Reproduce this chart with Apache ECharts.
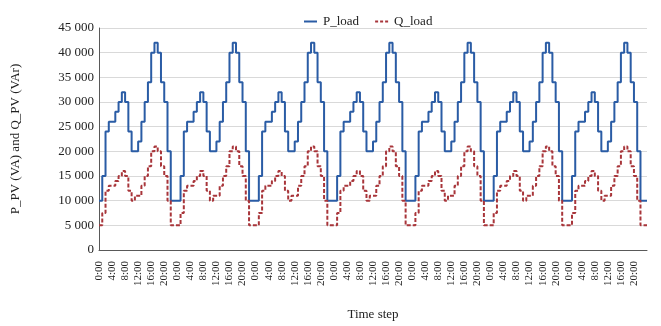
<!DOCTYPE html>
<html><head><meta charset="utf-8">
<script src="https://cdn.jsdelivr.net/npm/echarts@6/dist/echarts.min.js"></script>
<style>html,body{margin:0;padding:0;background:#fff}#c{width:661px;height:326px}</style>
</head><body><div id="c"></div>
<script>
// Hour-of-day tick labels (one day); the x axis runs over 7 days + closing point
const hourLabels = ['0:00','1:00','2:00','3:00','4:00','5:00','6:00','7:00','8:00','9:00','10:00','11:00',
  '12:00','13:00','14:00','15:00','16:00','17:00','18:00','19:00','20:00','21:00','22:00','23:00'];
const numDays = 7;

// P_load (VA), hourly (7 days + closing value)
const pLoad = [
  10000,15000,24000,26000,26000,28000,30000,32000,30000,24000,20000,20000,22000,26000,30000,34000,40000,42000,40000,34000,30000,20000,10000,10000,
  10000,15000,24000,26000,26000,28000,30000,32000,30000,24000,20000,20000,22000,26000,30000,34000,40000,42000,40000,34000,30000,20000,10000,10000,
  10000,15000,24000,26000,26000,28000,30000,32000,30000,24000,20000,20000,22000,26000,30000,34000,40000,42000,40000,34000,30000,20000,10000,10000,
  10000,15000,24000,26000,26000,28000,30000,32000,30000,24000,20000,20000,22000,26000,30000,34000,40000,42000,40000,34000,30000,20000,10000,10000,
  10000,15000,24000,26000,26000,28000,30000,32000,30000,24000,20000,20000,22000,26000,30000,34000,40000,42000,40000,34000,30000,20000,10000,10000,
  10000,15000,24000,26000,26000,28000,30000,32000,30000,24000,20000,20000,22000,26000,30000,34000,40000,42000,40000,34000,30000,20000,10000,10000,
  10000,15000,24000,26000,26000,28000,30000,32000,30000,24000,20000,20000,22000,26000,30000,34000,40000,42000,40000,34000,30000,20000,10000,10000,
  10000
];
// Q_load (VAr), hourly (7 days + closing value)
const qLoad = [
  5000,7500,12000,13000,13000,14000,15000,16000,15000,12000,10000,11000,11000,13000,15000,17000,20000,21000,20000,17000,15000,10000,5000,5000,
  5000,7500,12000,13000,13000,14000,15000,16000,15000,12000,10000,11000,11000,13000,15000,17000,20000,21000,20000,17000,15000,10000,5000,5000,
  5000,7500,12000,13000,13000,14000,15000,16000,15000,12000,10000,11000,11000,13000,15000,17000,20000,21000,20000,17000,15000,10000,5000,5000,
  5000,7500,12000,13000,13000,14000,15000,16000,15000,12000,10000,11000,11000,13000,15000,17000,20000,21000,20000,17000,15000,10000,5000,5000,
  5000,7500,12000,13000,13000,14000,15000,16000,15000,12000,10000,11000,11000,13000,15000,17000,20000,21000,20000,17000,15000,10000,5000,5000,
  5000,7500,12000,13000,13000,14000,15000,16000,15000,12000,10000,11000,11000,13000,15000,17000,20000,21000,20000,17000,15000,10000,5000,5000,
  5000,7500,12000,13000,13000,14000,15000,16000,15000,12000,10000,11000,11000,13000,15000,17000,20000,21000,20000,17000,15000,10000,5000,5000,
  5000
];

const categories = [];
for (let d = 0; d < numDays; d++) categories.push(...hourLabels);
categories.push(hourLabels[0]);
const lastIndex = categories.length - 1;

const FONT = '"Liberation Serif", "Times New Roman", serif';
const fmtThousands = v => String(v).replace(/\B(?=(\d{3})+(?!\d))/g, ' ');
const BLUE = '#2a5ca5';
const RED = '#a8353a';

const chart = echarts.init(document.getElementById('c'), null, {renderer: 'canvas'});
chart.setOption({
  animation: false,
  backgroundColor: '#ffffff',
  textStyle: {fontFamily: FONT},
  grid: {left: 99, right: 14, top: 28, bottom: 68, containLabel: false},
  legend: {
    left: 299, top: 10, itemWidth: 13, itemHeight: 2, itemGap: 16,
    textStyle: {fontFamily: FONT, fontSize: 13, color: '#222', padding: [0, 0, 0, 1]},
    data: [
      {name: 'P_load', icon: 'rect', itemStyle: {color: BLUE}},
      {name: 'Q_load', icon: 'path://M0,0h3v2h-3zM5,0h3v2h-3zM10,0h3v2h-3z', itemStyle: {color: RED}}
    ]
  },
  xAxis: {
    type: 'category', boundaryGap: false, data: categories,
    name: 'Time step', nameLocation: 'middle', nameGap: 58,
    nameTextStyle: {fontFamily: FONT, fontSize: 13, color: '#222'},
    axisLine: {show: true, lineStyle: {color: '#595959', width: 1}},
    axisTick: {show: false},
    axisLabel: {
      rotate: 90, margin: 11, fontFamily: FONT, fontSize: 11, color: '#222',
      interval: (i) => i % 4 === 0 && i < lastIndex
    },
    splitLine: {show: false}
  },
  yAxis: {
    type: 'value', min: 0, max: 45000, interval: 5000,
    name: 'P_PV (VA) and Q_PV (VAr)', nameLocation: 'middle', nameGap: 77, nameRotate: 90,
    nameTextStyle: {fontFamily: FONT, fontSize: 13, color: '#222'},
    axisLine: {show: true, lineStyle: {color: '#595959', width: 1}},
    axisTick: {show: false},
    axisLabel: {margin: 5, fontFamily: FONT, fontSize: 13, color: '#222', formatter: fmtThousands},
    splitLine: {show: true, lineStyle: {color: '#d9d9d9', width: 1}}
  },
  series: [
    {name: 'P_load', type: 'line', step: 'end', data: pLoad, symbol: 'none', showSymbol: false,
     lineStyle: {color: BLUE, width: 2}, itemStyle: {color: BLUE}},
    {name: 'Q_load', type: 'line', step: 'end', data: qLoad, symbol: 'none', showSymbol: false,
     lineStyle: {color: RED, width: 2, type: [4, 2]}, itemStyle: {color: RED}}
  ]
});
</script></body></html>
